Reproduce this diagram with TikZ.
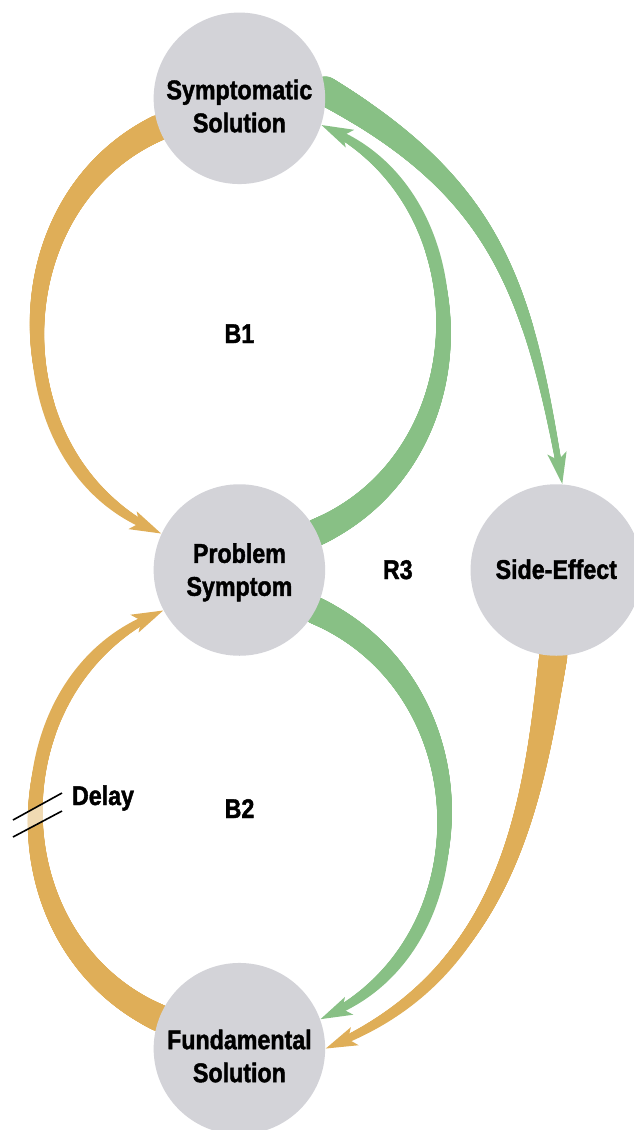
\documentclass[tikz,border=0pt]{standalone}
\usepackage{fontspec}
\setmainfont{Liberation Sans}[FakeStretch=0.86, BoldFeatures={FakeBold=1.6}]
\usetikzlibrary{arrows.meta,decorations.markings,backgrounds}
\definecolor{orng}{RGB}{223,174,88}
\definecolor{grn}{RGB}{136,192,133}
\definecolor{bub}{RGB}{211,211,216}
\tikzset{
  bubble/.style={circle, fill=bub, minimum size=171.5pt, inner sep=0pt},
  txt/.style={font=\bfseries\fontsize{27}{33}\selectfont, text=black, align=center, inner sep=0pt},
  taper/.style n args={3}{%
    draw=#1, line width=#3pt,
    -{Stealth[length=31pt,width=18.5pt,inset=6.5pt]},
    preaction={decorate, decoration={markings,
      mark=between positions 0 and -22pt step 0.6pt with {%
        \pgfmathsetmacro\tapr{(#3+(#2-#3)*(1-\pgfkeysvalueof{/pgf/decoration/mark info/distance from start}/\pgfdecoratedpathlength)^1.3)/2}%
        \fill[#1] (0,0) circle[radius=\tapr pt];
      }}}
  },
  delaymark/.style={draw=black, line width=1.6pt}
}
\begin{document}
\begin{tikzpicture}[x=1pt,y=-1pt]
\useasboundingbox (0,0) rectangle (634,1130);
% nodes
\node[bubble, label={[txt, yshift=-7.8pt]center:{Symptomatic\\Solution}}] (ss) at (239.4,98.3) {};
\node[bubble, label={[txt, yshift=-2.3pt]center:{Problem\\Symptom}}] (ps) at (239.4,570) {};
\node[bubble, label={[txt, yshift=0.8pt]center:{Side-Effect}}] (se) at (556.3,570) {};
\node[bubble, label={[txt, yshift=-7.3pt]center:{Fundamental\\Solution}}] (fs) at (239.4,1048.7) {};
% loop labels
\node[txt, anchor=base] (b1) at (239.4,343) {B1};
\node[txt, anchor=base] (b2) at (239.5,818) {B2};
\node[txt, anchor=base] (r3) at (397.8,579) {R3};
\node[txt, anchor=base] (dl) at (103,805) {Delay};
% connectors
\begin{pgfonlayer}{background}
\draw[taper={orng}{26}{6}] (ss.200) .. controls (-4,203.3) and (-4,456.7) .. (ps.155);
\draw[taper={grn}{27}{6}] (ps.26) .. controls (485,456.7) and (485,203.3) .. (ss.342);
\draw[taper={grn}{29}{5.5}] (ss.5) .. controls (497,189) and (529,288) .. (se.86);
\draw[taper={orng}{28}{6.5}] (se.268) .. controls (532.6,804) and (509,970.6) .. (fs.0);
\draw[taper={grn}{27}{6}] (ps.332) .. controls (486.8,688.3) and (486.8,941.7) .. (fs.20);
\draw[taper={orng}{27}{6}] (fs.159) .. controls (-6.8,941.7) and (-6.8,688.3) .. (ps.208);
\end{pgfonlayer}
% delay marks
\coordinate (d1) at (13,820);
\coordinate (d2) at (62,793);
\coordinate (d3) at (13,837);
\coordinate (d4) at (62,811);
\fill[white, opacity=0.55] (d1) -- (d2) -- (d4) -- (d3) -- cycle;
\draw[delaymark] (d1) -- (d2);
\draw[delaymark] (d3) -- (d4);
\end{tikzpicture}
\end{document}
